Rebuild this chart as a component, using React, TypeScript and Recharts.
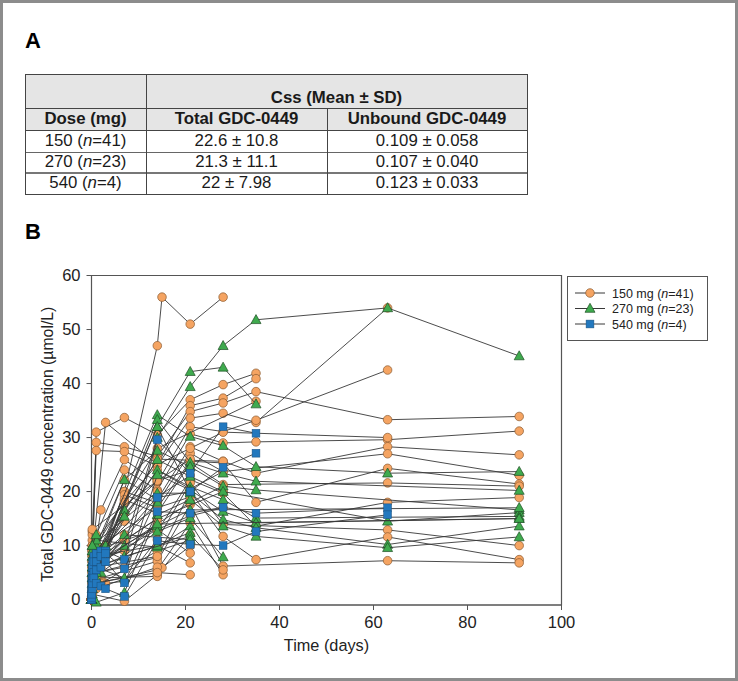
import React from 'react';
import { ScatterChart, Scatter, XAxis, YAxis, ReferenceArea, Legend } from 'recharts';

const _ = null;

// Sampling days (columns of each patient row)
const sampleDays = [0, 0.04, 0.08, 0.17, 0.25, 0.5, 1, 2, 3, 7, 14, 15, 21, 28, 35, 63, 91];

// 150 mg (n=41) – total GDC-0449 concentration (µmol/L)
const conc150: (number | null)[][] = [
  [0, _, _, 3, _, _, 6, _, _, 20, 47, 56, 51, 56, _, _, _],
  [0, _, _, 5, _, _, 31, _, _, 33.7, 30.5, _, 37, 39.8, 41.9, _, _],
  [0, _, _, 8, _, _, _, _, 32.8, _, 25, _, 35.9, 37.3, 40.9, _, _],
  [0.5, _, _, 12.6, _, _, 29.1, _, _, 28.3, 26.5, _, 34.8, 36.4, 38.5, 33.3, 33.9],
  [0, _, _, 9, _, _, 27.6, _, _, 27.4, 24.8, _, 33.6, 34.5, 32.8, 54, _],
  [0, _, _, 6, _, _, _, 16.6, _, 25.9, 21.7, _, 32, 31.1, 33.2, 42.5, _],
  [0, _, _, 10, _, _, 12, _, _, 24, 20.3, _, 30.7, 29, 29.2, 29.6, 31.2],
  [0, _, _, 4, _, _, 9, _, _, 22.2, 18.5, _, 28.3, 25.6, 23.4, 28.3, 26.8],
  [0, _, _, 7, _, _, _, _, 10, 20, 17.9, _, 27.1, 23.7, _, 27, 23],
  [0, _, _, 5, _, _, 8, _, _, 19.4, 17, _, 25.6, 25.3, 18, 24.3, 21.4],
  [0, _, _, 3, _, _, _, 6, _, 18.5, 16, _, 25.3, 21.3, _, 21.6, 21],
  [0, _, _, 6, _, _, 7, _, _, 14.5, 12.6, _, 22.2, 19.7, 13.6, 18, 18.9],
  [0, _, _, 2, _, _, _, _, 3, 3.4, 11.1, _, 21.6, 13.9, _, 12.9, 10],
  [0, _, _, 4, _, _, 5, _, _, _, 7.8, _, 20, 11.7, 7.4, 11.6, 7.4],
  [0, _, _, 3, _, _, _, 4, _, _, 7.1, _, 17.6, 6.2, _, 7.2, 6.8],
  [0, _, _, 2, _, _, 3, _, _, _, 5.5, _, 14.2, 4.6, _, _, _],
  [0, _, _, 1, _, _, _, _, _, -0.3, 4.6, _, 12, 5.5, _, _, _],
  [0, _, _, 2, _, _, 4, _, _, _, 4.3, 5.9, 9.9, _, _, _, _],
  [0, _, _, 9, _, _, _, _, _, _, 13, _, 8.6, _, _, _, _],
  [0, _, _, 7, _, _, 6, _, _, _, 10, _, 6.8, _, _, _, _],
  [0, _, _, 10, _, _, _, _, _, 18, 25, _, 28, 31, _, 30, _],
  [0, _, _, 8, _, _, 9, _, _, 16, 22, _, 24, _, _, _, _],
  [0, _, _, 6, _, _, _, 7, _, 12, 19, _, 23, _, _, _, _],
  [0, _, _, 5, _, _, 6, _, _, 11, 15, _, _, _, _, _, _],
  [0, _, _, 9, _, _, _, _, 8, 9, 14, _, 18, 21, _, _, _],
  [0, _, _, 4, _, _, 5, _, _, 6, _, _, _, _, _, _, _],
  [0, _, _, 11, _, _, 10, _, _, _, 28, _, _, _, 36.7, _, _],
  [0, _, _, 3, _, _, _, 3, _, _, 9, _, 11, _, _, _, _],
  [0, _, _, 7, _, _, 8, _, _, _, 26, _, _, 25.6, _, _, _],
  [0, _, _, 6, _, _, _, _, _, _, 24, _, 20.5, 23.7, _, _, _],
  [0, _, _, 2, _, _, 2, _, _, _, 6, _, _, _, _, _, _],
  [0, _, _, 10, _, _, _, _, _, _, 20, _, _, _, _, _, _],
  [0, _, _, 5, _, _, 4, _, _, _, _, _, _, _, _, _, _],
  [0, _, _, 12, _, _, _, _, _, _, _, _, _, _, _, _, _],
  [0, _, _, 8, _, _, 7, _, _, _, _, _, _, _, _, _, _],
  [0, _, _, 9, _, _, _, _, _, _, 17, _, 19, _, _, _, _],
  [0, _, _, 6, _, _, _, _, _, _, 13, _, 15.5, 17, _, _, _],
  [0, _, _, 4, _, _, 6, _, _, _, 8, _, _, _, _, _, _],
  [0, _, _, 13, _, _, _, _, _, _, 22, _, 26, _, _, _, _],
  [0, _, _, 7, _, _, _, _, _, _, 15, _, _, 20, _, _, _],
  [0, _, _, 3, _, _, _, _, _, _, 5, _, 4.6, _, _, _, _],
];

// 270 mg (n=23)
const conc270: (number | null)[][] = [
  [0, _, _, 4, _, _, 6, _, _, 10, 30, _, 39.4, 47, 51.8, 54, 45.1],
  [0, _, _, 5, _, _, _, 8, _, _, 32, _, 42.2, 43, 36.2, _, _],
  [0, _, _, 6, _, _, 7, _, _, _, 34.2, _, 30.2, 28.5, 24.6, 23.4, 23.7],
  [0, _, _, 3, _, _, _, _, 9, _, 33.3, _, 25.4, 23.4, 21.9, _, 20.2],
  [0, _, _, 8, _, _, 10, _, _, 22.2, 27.6, _, 24.6, 21, 20.3, _, 16.6],
  [0, _, _, 2, _, _, 4, _, _, 16.6, 25.9, _, 22.8, 20, _, 14.5, 16.1],
  [0, _, _, 7, _, _, _, 9, _, 15.4, 24, _, 20.9, 18.5, 15.1, _, 15.4],
  [0, _, _, 5, _, _, 6, _, _, 4, 23.1, _, 20.3, 16.3, 14.2, _, 15],
  [0, _, _, 9, _, _, _, _, 10, _, 19.7, _, 19.7, 14.8, 13.3, 10.2, 13.6],
  [0, _, _, 1, _, _, -0.5, _, _, 1.3, 15.7, _, 18.5, 13.6, 11.7, 9.6, 11.6],
  [0, _, _, 6, _, _, 7, _, _, _, 13.6, _, 16.6, _, _, _, 17],
  [0, _, _, 4, _, _, _, 5, _, _, 12.6, _, 15.1, 7.9, _, _, _],
  [0, _, _, 10, _, _, 11, _, _, _, 9.7, _, 13.6, _, _, _, _],
  [0, _, _, 3, _, _, 5, _, _, _, 32, _, 20, _, _, _, _],
  [0, _, _, 8, _, _, _, _, _, _, 10, _, 12.4, _, _, _, _],
  [0, _, _, 5, _, _, 6, _, _, 8, _, _, 11.7, _, _, _, _],
  [0, _, _, 7, _, _, _, _, _, 12, _, _, 11.1, _, _, _, _],
  [0, _, _, 2, _, _, 3, _, _, _, _, _, _, _, _, _, _],
  [0, _, _, 9, _, _, 8, _, _, _, _, _, _, _, _, _, _],
  [0, _, _, 6, _, _, _, _, _, _, 14, _, _, _, _, _, 15],
  [0, _, _, 4, _, _, _, _, _, _, _, _, _, _, _, _, _],
  [0, _, _, 10, _, _, 12, _, _, _, _, _, _, _, _, _, _],
  [0, _, _, 5, _, _, _, _, _, _, 18, _, _, _, _, _, _],
];

// 540 mg (n=4)
const conc540: (number | null)[][] = [
  [0, 2, 4, 6, 7, 8, 8.5, 9, 9, 7.4, 29.6, _, 23.4, 32, 30.8, _, _],
  [0, 1, 3, 4.5, 6, 7, 7, 8, 8.5, 5.7, 18.9, _, 20, 24.5, 27.1, _, _],
  [0, 0.5, 1.5, 3, 4, 5, 5.5, 6, 7, 3.1, 16.3, _, 16, 17.1, 16, 17, _],
  [0, 0.3, 1, 2, 3, 4, 3, 2.5, 2, 0.6, 10.9, _, 10.2, 10, 12.6, 15.7, _],
];

const xTicks = [0, 20, 40, 60, 80, 100];
const yTicks = [0, 10, 20, 30, 40, 50, 60];

// Table A
const doseLabels = ['150', '270', '540'];
const doseN = ['41', '23', '4'];
const totalCss = ['22.6 ± 10.8', '21.3 ± 11.1', '22 ± 7.98'];
const unboundCss = ['0.109 ± 0.058', '0.107 ± 0.040', '0.123 ± 0.033'];

// Legend
const legendDoses = ['150 mg', '270 mg', '540 mg'];
const legendN = ['41', '23', '4'];

const ORANGE = '#F5A462';
const GREEN = '#3FAA4E';
const BLUE = '#2278BE';
const LINE = '#383838';
const AXIS = '#555';

const SANS = "'Liberation Sans', Arial, Helvetica, sans-serif";

const toPoints = (row: (number | null)[]) =>
  row
    .map((v, i) => (v == null ? null : { x: sampleDays[i], y: v }))
    .filter((p) => p !== null) as { x: number; y: number }[];

const CircleMark = (p: any) => (
  <circle cx={p.cx} cy={p.cy} r={4.3} fill={ORANGE} stroke="#8a5a30" strokeWidth={0.7} />
);
const TriMark = (p: any) => (
  <polygon
    points={`${p.cx},${p.cy - 5.2} ${p.cx - 5},${p.cy + 3.8} ${p.cx + 5},${p.cy + 3.8}`}
    fill={GREEN}
    stroke="#1f4f25"
    strokeWidth={0.7}
  />
);
const SqMark = (p: any) => (
  <rect x={p.cx - 3.9} y={p.cy - 3.9} width={7.8} height={7.8} fill={BLUE} stroke="#1b4f7c" strokeWidth={0.5} />
);

const markers = [CircleMark, TriMark, SqMark];

const LegendBox = () => (
  <div
    style={{
      width: 141,
      height: 65,
      border: '1px solid #555',
      boxSizing: 'border-box',
      background: '#fff',
    }}
  >
    <svg width={139} height={63}>
      {legendDoses.map((d, i) => {
        const cy = 16 + i * 15.5;
        const cx = 22;
        const M = markers[i];
        return (
          <g key={d}>
            <line x1={7} x2={37} y1={cy} y2={cy} stroke={LINE} strokeWidth={1} />
            <M cx={cx} cy={cy} />
            <text x={44} y={cy + 4.5} fontSize={12.5} fontFamily={SANS} fill="#222">
              {d} (<tspan fontStyle="italic">n</tspan>={legendN[i]})
            </text>
          </g>
        );
      })}
    </svg>
  </div>
);

const cellText: React.CSSProperties = {
  position: 'absolute',
  display: 'flex',
  alignItems: 'center',
  justifyContent: 'center',
  fontFamily: SANS,
  fontSize: 16.8,
  color: '#1a1a1a',
  lineHeight: 1,
  whiteSpace: 'nowrap',
};

const TableA = () => {
  const L = 25, R = 527, C1 = 146, C2 = 327;
  const rowsY = [74, 108, 130, 152, 173, 194];
  const line = (x: number, y: number, w: number, h: number, c = '#444') => (
    <div style={{ position: 'absolute', left: x, top: y, width: w, height: h, background: c }} />
  );
  return (
    <div style={{ position: 'absolute', left: 0, top: 0 }}>
      <div style={{ position: 'absolute', left: L, top: rowsY[0], width: R - L, height: rowsY[2] - rowsY[0], background: '#e5e5e5' }} />
      {line(L, rowsY[0], R - L + 1, 1)}
      {line(L, rowsY[1], R - L + 1, 1)}
      {line(L, rowsY[2], R - L + 1, 1)}
      {line(L, rowsY[3], R - L + 1, 1, '#666')}
      {line(L, rowsY[4] - 1, R - L + 1, 2, '#777')}
      {line(L, rowsY[5], R - L + 1, 1)}
      {line(L, rowsY[0], 1, rowsY[5] - rowsY[0] + 1)}
      {line(R, rowsY[0], 1, rowsY[5] - rowsY[0] + 1)}
      {line(C1, rowsY[0], 1, rowsY[5] - rowsY[0] + 1)}
      {line(C2, rowsY[1], 1, rowsY[5] - rowsY[1] + 1)}
      <div style={{ ...cellText, left: C1, top: 88, width: R - C1, height: 20, fontWeight: 'bold' }}>Css (Mean ± SD)</div>
      <div style={{ ...cellText, left: L, top: rowsY[1], width: C1 - L, height: 22, fontWeight: 'bold' }}>Dose (mg)</div>
      <div style={{ ...cellText, left: C1, top: rowsY[1], width: C2 - C1, height: 22, fontWeight: 'bold' }}>Total GDC-0449</div>
      <div style={{ ...cellText, left: C2, top: rowsY[1], width: R - C2, height: 22, fontWeight: 'bold' }}>Unbound GDC-0449</div>
      {doseLabels.map((d, i) => {
        const top = rowsY[i + 2];
        const h = rowsY[i + 3] - top;
        return (
          <React.Fragment key={d}>
            <div style={{ ...cellText, left: L, top, width: C1 - L, height: h }}>
              {d}&nbsp;(<i>n</i>={doseN[i]})
            </div>
            <div style={{ ...cellText, left: C1, top, width: C2 - C1, height: h }}>{totalCss[i]}</div>
            <div style={{ ...cellText, left: C2, top, width: R - C2, height: h }}>{unboundCss[i]}</div>
          </React.Fragment>
        );
      })}
    </div>
  );
};

const groups = [
  { rows: conc150, shape: CircleMark },
  { rows: conc270, shape: TriMark },
  { rows: conc540, shape: SqMark },
];

export default function App() {
  return (
    <div
      style={{
        position: 'absolute',
        left: 0,
        top: 0,
        width: 738,
        height: 681,
        background: '#fff',
        border: '3px solid #8c8c8c',
        boxSizing: 'border-box',
        overflow: 'hidden',
      }}
    >
      <div style={{ position: 'absolute', left: -3, top: -3 }}>
        <ScatterChart width={738} height={681} margin={{ top: 275.5, right: 176.5, bottom: 0, left: 0 }}>
          <XAxis
            type="number"
            dataKey="x"
            domain={[0, 100]}
            ticks={xTicks}
            height={76}
            stroke={AXIS}
            tickSize={5}
            tickMargin={6}
            tick={{ fontSize: 16.5, fill: '#222', fontFamily: SANS }}
            label={{ value: 'Time (days)', position: 'insideBottom', offset: 30, fontSize: 16.3, fill: '#222', fontFamily: SANS }}
          />
          <YAxis
            type="number"
            dataKey="y"
            domain={[-1, 60]}
            ticks={yTicks}
            width={91.5}
            stroke={AXIS}
            tickSize={5}
            tickMargin={6}
            tick={{ fontSize: 16.5, fill: '#222', fontFamily: SANS }}
            label={{ value: 'Total GDC-0449 concentration (µmol/L)', angle: -90, position: 'center', dx: 2, dy: 4, fontSize: 15.8, fill: '#222', fontFamily: SANS }}
          />
          <ReferenceArea x1={0} x2={100} y1={-1} y2={60} fill="none" stroke={AXIS} strokeWidth={1.2} ifOverflow="visible" />
          {groups.map((g, gi) =>
            g.rows.map((row, ri) => (
              <Scatter
                key={`${gi}-${ri}`}
                data={toPoints(row)}
                line={{ stroke: LINE, strokeWidth: 0.9 }}
                lineType="joint"
                shape={g.shape}
                fill={gi === 0 ? ORANGE : gi === 1 ? GREEN : BLUE}
                isAnimationActive={false}
                legendType="none"
              />
            ))
          )}
          <Legend
            layout="vertical"
            align="center"
            verticalAlign="middle"
            wrapperStyle={{ left: 567, top: 276, width: 141, height: 65 }}
            content={() => <LegendBox />}
          />
        </ScatterChart>
      </div>
      <div style={{ position: 'absolute', left: -3, top: -3 }}>
        <div style={{ position: 'absolute', left: 25, top: 29.5, fontFamily: SANS, fontWeight: 'bold', fontSize: 22, lineHeight: 1 }}>A</div>
        <div style={{ position: 'absolute', left: 25, top: 220.5, fontFamily: SANS, fontWeight: 'bold', fontSize: 22, lineHeight: 1 }}>B</div>
        <TableA />
      </div>
    </div>
  );
}
